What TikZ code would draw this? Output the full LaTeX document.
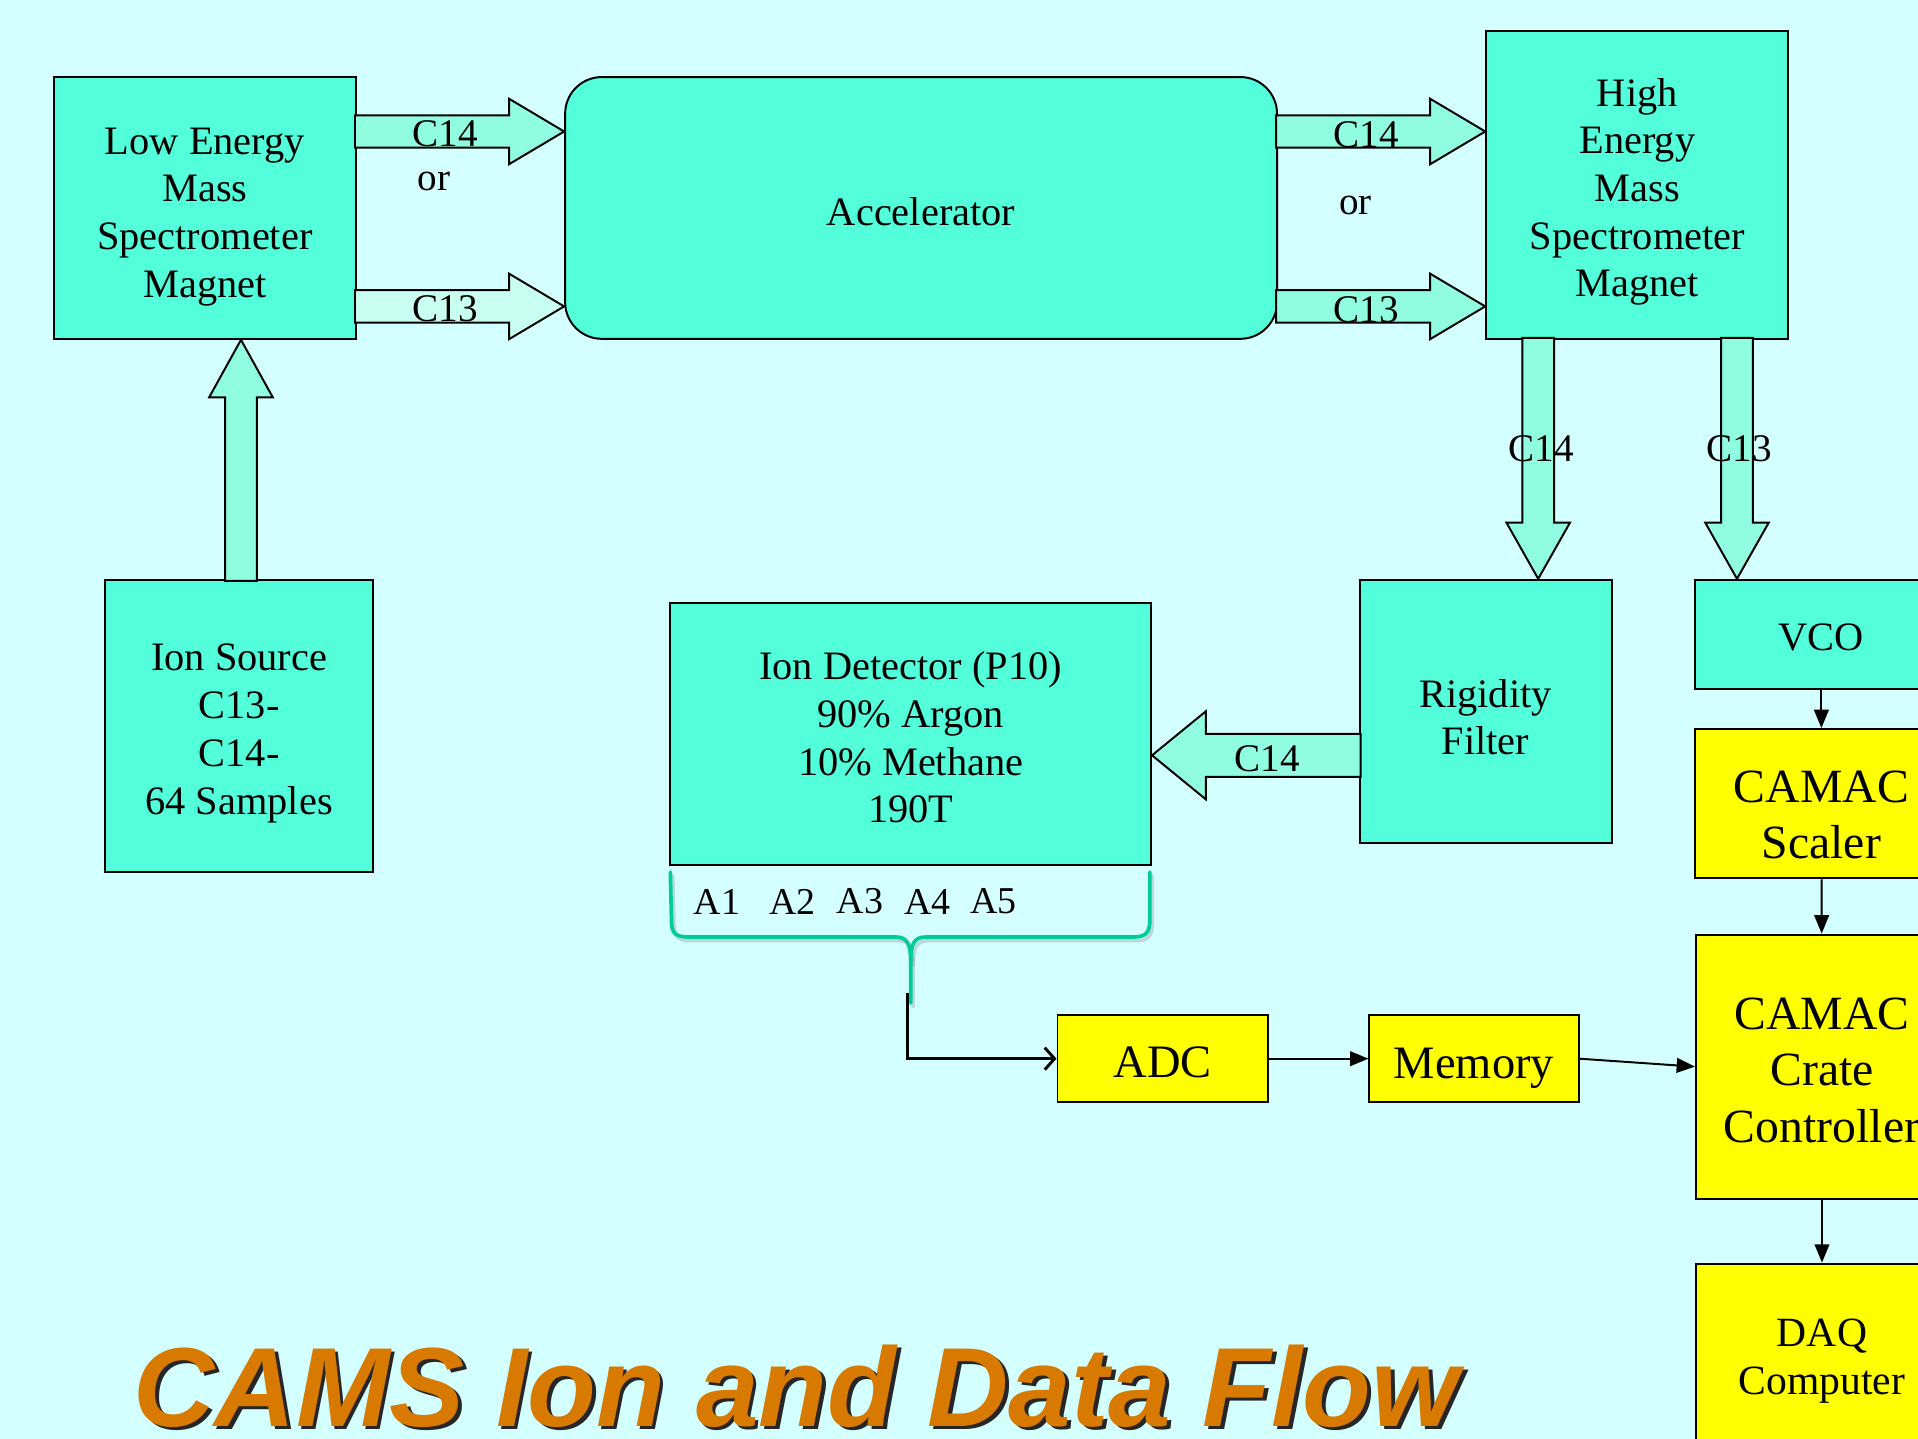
\documentclass[tikz,border=0pt]{standalone}
\usepackage{fontspec}
\setmainfont{Liberation Serif}
\newfontfamily\titolofont{Liberation Sans}
\usetikzlibrary{arrows.meta, calc, positioning}

\definecolor{sfondo}{HTML}{D4FFFF}
\definecolor{acqua}{HTML}{52FFDA}
\definecolor{acquachiaro}{HTML}{90FDE0}
\definecolor{acquapallido}{HTML}{C8FFF0}
\definecolor{gialloCAMAC}{HTML}{FFFF00}
\definecolor{graffa}{HTML}{00CC99}
\definecolor{arancio}{HTML}{D97A00}

\newcommand{\normale}{\fontsize{16.5}{19.5}\selectfont}
\newcommand{\grande}{\fontsize{19.5}{23}\selectfont}
% puntello invisibile: abbassa il testo nella scatola
\newcommand{\su}[1]{\rule{0pt}{#1}}

% freccia larga: colore, punta, angolo, lunghezza, mezzo corpo, mezza testa, testa
\newcommand{\freccione}[7]{%
  \begin{scope}[shift={(#2)}, rotate=#3]
    \draw[fill=#1, line width=0.8pt] (0,0) -- (-#7,#6) -- (-#7,#5) -- (-#4,#5)
      -- (-#4,-#5) -- (-#7,-#5) -- (-#7,-#6) -- cycle;
  \end{scope}}

\begin{document}
\begin{tikzpicture}[x=0.5pt, y=-0.5pt,
    blocco/.style={draw, line width=0.8pt, fill=acqua, align=center, inner sep=0pt, font=\normale},
    dati/.style={blocco, fill=gialloCAMAC},
    etichetta/.style={font=\fontsize{16}{19}\selectfont, inner sep=0pt},
    filo/.style={-{Triangle[length=7.5pt,width=6pt]}, line width=0.8pt},
    aperta/.style={-{Straight Barb[length=4pt,width=9pt]}, line width=1.2pt},
    titolo/.style={font=\titolofont\bfseries\itshape\fontsize{46}{46}\selectfont, text=arancio, anchor=base, inner sep=0pt, text depth=0pt}]

    % Sfondo
    \useasboundingbox (0,0) rectangle (1568,1176);
    \fill[sfondo] (0,0) rectangle (1568,1176);
    \clip (0,0) rectangle (1568,1176);

    % Magneti e acceleratore
    \node[blocco, minimum width=123.5pt, minimum height=107pt] (lems) at (167.5,170) {\su{18pt}Low Energy\\Mass\\Spectrometer\\Magnet};
    \node[blocco, rounded corners=15pt, minimum width=291pt, minimum height=107pt] (acc) at (753,170) {\su{14.3pt}Accelerator};
    \node[blocco, minimum width=123.5pt, minimum height=126pt] (hems) at (1338.5,151) {\su{17.3pt}High\\Energy\\Mass\\Spectrometer\\Magnet};

    % Sorgente, rivelatore, filtro
    \node[blocco, minimum width=109.5pt, minimum height=119.5pt] (sorgente) at (195.5,593.5) {\su{17pt}Ion Source\\C13-\\C14-\\64 Samples};
    \node[blocco, minimum width=196.5pt, minimum height=107pt] (rivelatore) at (744.5,600) {\su{14.4pt}Ion Detector (P10)\\90\% Argon\\10\% Methane\\190T};
    \node[blocco, minimum width=103pt, minimum height=107.5pt] (filtro) at (1214.5,581.5) {\su{16.3pt}Rigidity\\Filter};
    \node[blocco, minimum width=103pt, minimum height=44.5pt] (vco) at (1489,518.5) {\su{13.9pt}VCO};

    % Elettronica (gialla)
    \node[dati, font=\grande, minimum width=103pt, minimum height=61pt] (scaler) at (1489,657) {\su{21.9pt}CAMAC\\Scaler};
    \node[dati, font=\grande, minimum width=103pt, minimum height=108pt] (crate) at (1489.5,872) {\su{15.9pt}CAMAC\\Crate\\Controller};
    \node[dati, font=\fontsize{17}{19.5}\selectfont, minimum width=103pt, minimum height=74.5pt] (daq) at (1489.5,1107.5) {\su{16.3pt}DAQ\\Computer};
    \node[dati, font=\fontsize{19}{22}\selectfont, minimum width=86pt, minimum height=35.5pt] (adc) at (950.5,865.5) {\su{15.6pt}ADC};
    \node[dati, font=\fontsize{19}{22}\selectfont, minimum width=85.5pt, minimum height=35.5pt] (memoria) at (1205,865.5) {\su{20.6pt}Memory};

    % Frecce larghe (fasci di ioni)
    \coordinate (p14a) at (acc.west |- 0,107.5);
    \coordinate (p13a) at (acc.west |- 0,250.5);
    \coordinate (p14b) at (hems.west |- 0,107.5);
    \coordinate (p13b) at (hems.west |- 0,250.5);
    \coordinate (p14c) at (1257.5,0 |- filtro.north);
    \coordinate (p13c) at (1420,0 |- vco.north);
    \coordinate (pin) at (197,0 |- lems.south);
    \coordinate (priv) at (rivelatore.east |- 0,617.5);
    \freccione{acquachiaro}{p14a}{0}{171}{13.25}{26.75}{45}
    \freccione{acquapallido}{p13a}{0}{171}{13.25}{26.75}{45}
    \freccione{acquachiaro}{p14b}{0}{171}{13.25}{26.75}{45}
    \freccione{acquachiaro}{p13b}{0}{171}{13.25}{26.75}{45}
    \freccione{acquachiaro}{p14c}{-90}{197}{13}{26}{46}
    \freccione{acquachiaro}{p13c}{-90}{197}{13}{26}{46}
    \freccione{acquachiaro}{pin}{90}{197}{13}{26}{47}
    \freccione{acquachiaro}{priv}{180}{170.5}{17.6}{36}{44}

    % Etichette delle frecce
    \node[etichetta, anchor=base] (l14a) at (364,120) {C14};
    \node[etichetta, anchor=base] (l13a) at (364,263) {C13};
    \node[etichetta] (ora) at (355,148.5) {or};
    \node[etichetta, anchor=base] (l14b) at (1117,120.5) {C14};
    \node[etichetta, anchor=base] (l13b) at (1117,263.5) {C13};
    \node[etichetta] (orb) at (1108,168) {or};
    \node[etichetta] (l14c) at (1260,367) {C14};
    \node[etichetta] (l13c) at (1422,367) {C13};
    \node[etichetta] (l14d) at (1036,620) {C14};

    % Anodi A1..A5
    \foreach \i/\x in {1/586, 2/648, 3/703, 4/758, 5/812}
        \node[etichetta, font=\fontsize{15.5}{18}\selectfont] (a\i) at (\x,737) {A\i};

    % Graffa
    \begin{scope}[draw=graffa, line width=1.5pt, line cap=round]
        \draw[black!50, opacity=0.3] (550,716) -- (551,757) .. controls (551,765) and (554,769) .. (564,769) -- (734,769) .. controls (744,769) and (746.5,775) .. (746.5,789) -- (746.5,823);
        \draw[black!50, opacity=0.3] (746.5,789) .. controls (746.5,775) and (749,769) .. (759,769) -- (929,769) .. controls (939,769) and (942,765) .. (942,755) -- (942,716);
        \draw (548,713) -- (549,754) .. controls (549,762) and (552,766) .. (562,766) -- (732,766) .. controls (742,766) and (744.5,772) .. (744.5,786) -- (744.5,820);
        \draw (744.5,786) .. controls (744.5,772) and (747,766) .. (757,766) -- (927,766) .. controls (937,766) and (940,762) .. (940,752) -- (940,713);
    \end{scope}

    % Segnali
    \coordinate (punta) at (742,812);
    \draw[aperta] (punta) |- (adc.west);
    \draw[filo] (adc) -- (memoria);
    \draw[filo] (memoria.east) -- (crate.west);
    \foreach \a/\b in {vco/scaler, scaler/crate, crate/daq}
        \draw[filo] (\a) -- (\b);

    % Titolo con ombra
    \node[titolo, text=black!85] (ombra) at (654,1169) {CAMS Ion and Data Flow};
    \node[titolo] (titolo) at (651,1166) {CAMS Ion and Data Flow};

\end{tikzpicture}
\end{document}
